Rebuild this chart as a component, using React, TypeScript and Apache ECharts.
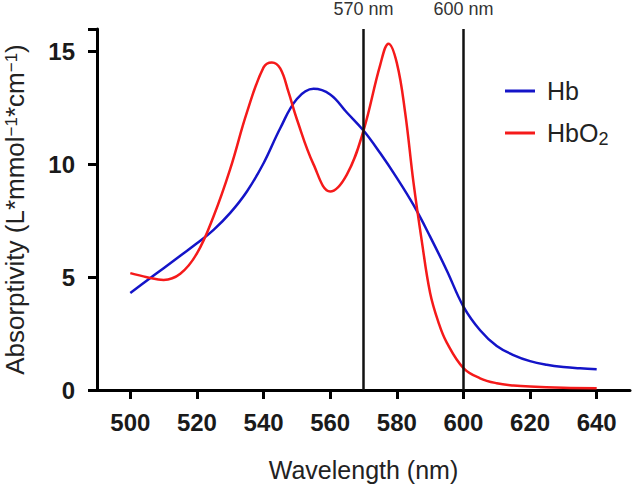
import React, { useEffect, useRef } from "react";
import * as echarts from "echarts";

const hbWavelength = [500, 505, 510, 515, 520, 525, 530, 535, 540, 545, 550, 555, 560, 565, 570, 575, 580, 585, 590, 595, 600, 605, 610, 615, 620, 625, 630, 635, 640];
const hbValues = [4.3, 4.85, 5.4, 5.95, 6.5, 7.1, 7.85, 8.8, 10.05, 11.6, 12.9, 13.35, 13.1, 12.3, 11.5, 10.5, 9.4, 8.2, 6.8, 5.3, 3.7, 2.65, 1.95, 1.55, 1.28, 1.12, 1.02, 0.96, 0.92];

const hbo2Wavelength = [500, 505, 510, 515, 520, 525, 530, 535, 540, 542.5, 545, 547.5, 550, 555, 560, 565, 570, 575, 577.5, 580, 582.5, 585, 587.5, 590, 592.5, 595, 600, 605, 610, 615, 620, 630, 640];
const hbo2Values = [5.18, 5.0, 4.88, 5.15, 6.05, 7.7, 9.8, 12.3, 14.3, 14.52, 14.25, 13.2, 12.0, 10.0, 8.8, 9.55, 11.5, 14.4, 15.35, 14.5, 12.3, 9.2, 6.6, 4.3, 3.0, 2.1, 0.97, 0.52, 0.3, 0.2, 0.15, 0.1, 0.08];

const xTicks = [500, 520, 540, 560, 580, 600, 620, 640];
const markerLines = [570, 600];
const seriesNames = ["Hb", "HbO2"];

const FONT = "'Liberation Sans', Arial, Helvetica, sans-serif";

export default function App() {
  const ref = useRef<HTMLDivElement>(null);
  useEffect(() => {
    if (!ref.current) return;
    const chart = echarts.init(ref.current, undefined, { renderer: "svg" });
    const zip = (xs: number[], ys: number[]) => xs.map((x, i) => [x, ys[i]]);
    chart.setOption({
      animation: false,
      backgroundColor: "#ffffff",
      grid: { left: 97, right: 3, top: 29, bottom: 97, containLabel: false, outerBoundsMode: "none" },
      legend: {
        orient: "vertical",
        left: 500,
        top: 71,
        itemWidth: 30,
        itemHeight: 3,
        itemGap: 12,
        icon: "rect",
        data: seriesNames,
        formatter: (name: string) => (name === "HbO2" ? "HbO{sub|2}" : name),
        textStyle: {
          fontSize: 25,
          fontFamily: FONT,
          color: "#222",
          lineHeight: 30,
          padding: [0, 0, 0, 7],
          rich: {
            sub: { fontSize: 18, fontFamily: FONT, color: "#222", lineHeight: 30, verticalAlign: "bottom", padding: [0, 0, 0, 0] },
          },
        },
      },
      xAxis: {
        type: "value",
        min: 490,
        max: 650,
        name: "Wavelength (nm)",
        nameLocation: "middle",
        nameGap: 67,
        nameTextStyle: { fontSize: 25, fontFamily: FONT, color: "#222" },
        splitLine: { show: false },
        axisLine: { show: true, onZero: false, lineStyle: { color: "#000", width: 3 } },
        axisTick: { show: true, length: 9, lineStyle: { color: "#000", width: 3 }, customValues: xTicks },
        axisLabel: { fontSize: 24, fontWeight: "bold", fontFamily: FONT, color: "#1a1a1a", margin: 20, customValues: xTicks },
      },
      yAxis: {
        type: "value",
        min: 0,
        max: 16,
        interval: 5,
        name: "Absorptivity (L*mmol{sup|−1}*cm{sup|−1})",
        nameLocation: "middle",
        nameGap: 70,
        nameTextStyle: {
          fontSize: 26,
          fontFamily: FONT,
          color: "#222",
          lineHeight: 24,
          rich: {
            sup: { fontSize: 17, fontFamily: FONT, color: "#222", lineHeight: 24, verticalAlign: "top", padding: [0, 0, 0, 0] },
          },
        },
        splitLine: { show: false },
        axisLine: { show: true, lineStyle: { color: "#000", width: 3 } },
        axisTick: { show: true, length: 9, lineStyle: { color: "#000", width: 3 } },
        axisLabel: {
          fontSize: 24,
          fontWeight: "bold",
          fontFamily: FONT,
          color: "#1a1a1a",
          margin: 22,
          formatter: (v: number) => (v > 15 ? "" : String(v)),
        },
      },
      series: [
        {
          name: "Hb",
          type: "line",
          data: zip(hbWavelength, hbValues),
          showSymbol: false,
          smooth: 0.4,
          color: "#1414c8",
          lineStyle: { width: 2.5, color: "#1414c8" },
          z: 3,
        },
        {
          name: "HbO2",
          type: "line",
          data: zip(hbo2Wavelength, hbo2Values),
          showSymbol: false,
          smooth: 0.4,
          color: "#f51a1a",
          lineStyle: { width: 2.5, color: "#f51a1a" },
          z: 4,
          markLine: {
            silent: true,
            symbol: "none",
            lineStyle: { color: "#111", width: 2.5, type: "solid" },
            label: {
              show: true,
              position: "end",
              distance: 11,
              formatter: (p: any) => `${p.value} nm`,
              fontSize: 18,
              fontFamily: FONT,
              color: "#333",
            },
            data: markerLines.map((v) => ({ xAxis: v })),
          },
        },
      ],
    });
    return () => chart.dispose();
  }, []);
  return <div ref={ref} style={{ position: "fixed", left: 0, top: 0, width: 633, height: 487 }} />;
}
